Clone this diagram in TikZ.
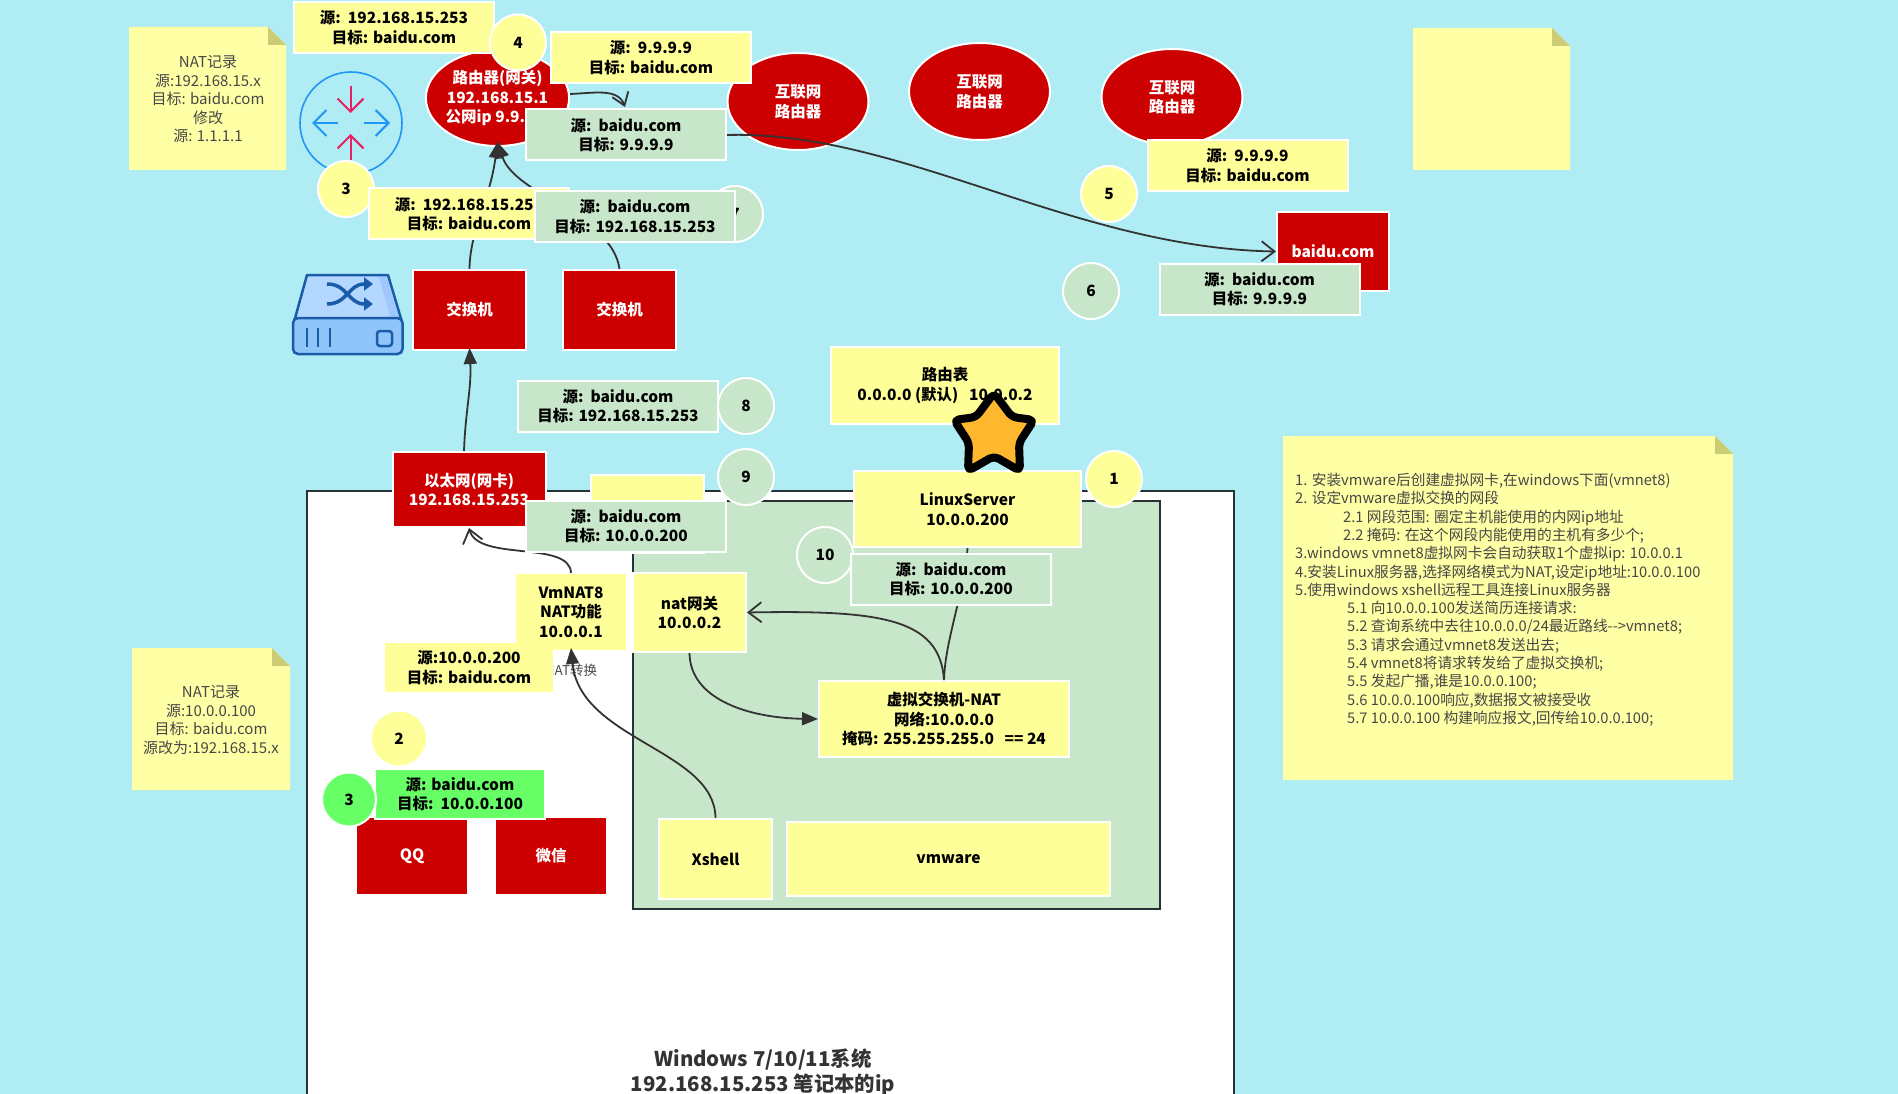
\documentclass[tikz,border=0pt]{standalone}
\usepackage{fontspec}
\setmainfont{Noto Sans CJK SC}
\usetikzlibrary{arrows.meta}
\definecolor{skybg}{HTML}{B0ECF3}
\definecolor{boxyellow}{HTML}{FFFF99}
\definecolor{noteyellow}{HTML}{FFFFA6}
\definecolor{notefold}{HTML}{CCCC77}
\definecolor{boxgreen}{HTML}{C8E6C9}
\definecolor{boxlime}{HTML}{66FF66}
\definecolor{boxred}{HTML}{CC0000}
\definecolor{linedark}{HTML}{333333}
\definecolor{framedark}{HTML}{263238}
\definecolor{iconblue}{HTML}{2196F3}
\definecolor{iconpink}{HTML}{E91E63}
\definecolor{switchdark}{HTML}{1A5CA8}
\definecolor{switchtop}{HTML}{B3D7FF}
\definecolor{switchband}{HTML}{A0C8FF}
\definecolor{switchbase}{HTML}{90C5FA}
\definecolor{starfill}{HTML}{FFB82E}
\tikzset{
  redbox/.style={fill=boxred,draw=white,line width=2pt,text=white,font=\fontsize{15.5}{19.5}\selectfont\bfseries,align=center,inner sep=0pt},
  redoval/.style={redbox,ellipse},
  yellowbox/.style={fill=boxyellow,draw=white,line width=2pt,text=black,font=\fontsize{15.5}{19.5}\selectfont\bfseries,align=center,inner sep=0pt},
  greenbox/.style={yellowbox,fill=boxgreen},
  limebox/.style={yellowbox,fill=boxlime},
  pkt/.style={minimum width=200,minimum height=51},
  numdot/.style={yellowbox,circle,minimum size=56},
  notetext/.style={text=black!72,font=\fontsize{15}{18.5}\selectfont,align=center,inner sep=0pt},
  conn/.style={draw=linedark,line width=1.8pt},
  fillarrow/.style={conn,-{Triangle[length=16,width=13]}},
  openarrow/.style={conn,-{Straight Barb[length=13,width=20]}},
  iconarrow/.style={line width=2pt,-{Straight Barb[length=13,width=26]}}
}
\usetikzlibrary{shapes.geometric}
%% sticky note with a folded corner
\newcommand{\stickynote}[4]{
  \fill[noteyellow] (#1,#2) -- (#3-18,#2) -- (#3,#2+18) -- (#3,#4) -- (#1,#4) -- cycle;
  \fill[notefold] (#3-18,#2) -- (#3,#2+18) -- (#3-18,#2+18) -- cycle;
}
\begin{document}
\begin{tikzpicture}[x=1pt,y=-1pt]
  \path[use as bounding box] (0,0) rectangle (1898,1094);
  \clip (0,0) rectangle (1898,1094);
  \fill[skybg] (0,0) rectangle (1898,1094);

  %% Laptop and virtual network frames
  \draw[framedark,fill=white,line width=2pt] (307,491) rectangle (1234,1110);
  \draw[framedark,fill=boxgreen,line width=2pt] (633,501) rectangle (1160,909);
  \node[text=linedark,font=\fontsize{20.4}{25}\selectfont\bfseries,align=center,inner sep=0pt] (winlabel) at (763,1072) {Windows 7/10/11系统\\192.168.15.253 笔记本的ip};
  \node[text=black!70,font=\fontsize{13.5}{16}\selectfont,inner sep=0pt] (nattext) at (571,670) {NAT转换};

  %% Notes
  \stickynote{129}{27}{286}{170}
  \node[notetext] (notetop) at (208,99) {NAT记录\\源:192.168.15.x\\目标: baidu.com\\修改\\源: 1.1.1.1};
  \stickynote{132}{648}{290}{790}
  \node[notetext] (noteleft) at (211,720) {NAT记录\\源:10.0.0.100\\目标: baidu.com\\源改为:192.168.15.x};
  \stickynote{1413}{28}{1570}{170}
  \stickynote{1283}{436}{1733}{780}
  \node[notetext,align=left,anchor=north west,font=\fontsize{14.7}{18.3}\selectfont] (notesteps) at (1295,473) {1. 安装vmware后创建虚拟网卡,在windows下面(vmnet8)\\
    2. 设定vmware虚拟交换的网段\\
    \hspace*{48pt}2.1 网段范围: 圈定主机能使用的内网ip地址\\
    \hspace*{48pt}2.2 掩码: 在这个网段内能使用的主机有多少个;\\
    3.windows vmnet8虚拟网卡会自动获取1个虚拟ip: 10.0.0.1\\
    4.安装Linux服务器,选择网络模式为NAT,设定ip地址:10.0.0.100\\
    5.使用windows xshell远程工具连接Linux服务器\\
    \hspace*{52pt}5.1 向10.0.0.100发送简历连接请求:\\
    \hspace*{52pt}5.2 查询系统中去往10.0.0.0/24最近路线-{}->vmnet8;\\
    \hspace*{52pt}5.3 请求会通过vmnet8发送出去;\\
    \hspace*{52pt}5.4 vmnet8将请求转发给了虚拟交换机;\\
    \hspace*{52pt}5.5 发起广播,谁是10.0.0.100;\\
    \hspace*{52pt}5.6 10.0.0.100响应,数据报文被接受收\\
    \hspace*{52pt}5.7 10.0.0.100 构建响应报文,回传给10.0.0.100;};

  %% Router icon
  \draw[iconblue,line width=1.6pt] (351,123) circle (51);
  \draw[iconarrow,iconpink] (350.5,86) -- (350.5,113);
  \draw[iconarrow,iconpink] (350.5,160) -- (350.5,134);
  \draw[iconarrow,iconblue] (338,123) -- (312,123);
  \draw[iconarrow,iconblue] (364,123) -- (390,123);

  %% Switch icon
  \draw[switchdark,fill=switchtop,line width=2.5pt,line join=round] (307,275) -- (388,275) -- (402,322) -- (294,322) -- cycle;
  \fill[switchband] (379,277) -- (387,277) -- (399,320) -- (391,320) -- cycle;
  \draw[switchdark,fill=switchbase,line width=2.5pt,rounded corners=5] (293,318) rectangle (402.5,354);
  \foreach \xbar in {307,318,330}
    \draw[switchdark,line width=2.5pt] (\xbar,328) -- (\xbar,347);
  \draw[switchdark,line width=2.5pt,rounded corners=3] (377,331) rectangle (392,346);
  \draw[switchdark,line width=3.5pt,-{Triangle[length=9,width=13]}] (327,284) .. controls (348,284) and (348,304) .. (373,304);
  \draw[switchdark,line width=3.5pt,-{Triangle[length=9,width=13]}] (327,304) .. controls (348,304) and (348,284) .. (373,284);

  %% Internet side
  \node[redoval,minimum width=141,minimum height=96] (router) at (497.5,98) {路由器(网关)\\192.168.15.1\\\makebox[70pt]{公网ip 9.9.9.9}};
  \node[redoval,minimum width=141,minimum height=97] (inet1) at (798,101.5) {互联网\\路由器};
  \node[redoval,minimum width=141,minimum height=97] (inet2) at (979.5,91.5) {互联网\\路由器};
  \node[redoval,minimum width=141,minimum height=96] (inet3) at (1172,97) {互联网\\路由器};
  \node[redbox,minimum width=112,minimum height=79] (baidu) at (1333,251.5) {baidu.com};
  \node[redbox,minimum width=113,minimum height=80] (switch1) at (469.5,310) {交换机};
  \node[redbox,minimum width=113,minimum height=80] (switch2) at (619.5,310) {交换机};

  %% Host side
  \node[redbox,minimum width=153,minimum height=75] (eth) at (469,489.5) {以太网(网卡)\\192.168.15.253};
  \node[redbox,minimum width=110,minimum height=76,draw=none] (qq) at (412,856) {QQ};
  \node[redbox,minimum width=110,minimum height=76,draw=none] (wechat) at (551,856) {微信};
  \node[yellowbox,minimum width=113,minimum height=78] (blank) at (647.5,514) {};
  \node[yellowbox,minimum width=110,minimum height=76,draw=none] (vmnat) at (571,612) {VmNAT8\\NAT功能\\10.0.0.1};
  \node[yellowbox,minimum width=113,minimum height=79] (natgw) at (689.5,612.5) {nat网关\\10.0.0.2};
  \node[yellowbox,minimum width=227,minimum height=76] (linux) at (967.5,509) {LinuxServer\\10.0.0.200};
  \node[yellowbox,minimum width=250,minimum height=76] (vswitch) at (944,719) {虚拟交换机-NAT\\网络:10.0.0.0\\掩码: 255.255.255.0\ \ \ == 24};
  \node[yellowbox,minimum width=113,minimum height=80] (xshell) at (715.5,859) {Xshell};
  \node[yellowbox,minimum width=323,minimum height=74] (vmware) at (948.5,859) {vmware};
  \node[yellowbox,minimum width=228,minimum height=77] (routetable) at (945,385.5) {路由表\\0.0.0.0 (默认)\ \ \ 10.0.0.2};

  %% Number dots under the labels
  \node[numdot] (dotthree) at (346,189) {3};
  \node[numdot,fill=boxgreen] (dotseven) at (735,214) {7};
  \node[numdot,fill=boxgreen] (doteight) at (746,406) {8};
  \node[numdot,fill=boxgreen] (dotnine) at (746,477) {9};
  \node[numdot,fill=boxgreen] (dotten) at (825,555) {10};
  \node[numdot] (dotone) at (1114,479) {1};
  \node[numdot] (dotfive) at (1109,194) {5};
  \node[numdot,fill=boxgreen] (dotsix) at (1091,291) {6};
  \node[numdot,draw=none,minimum size=54] (dottwo) at (399,738.5) {2};

  %% Connectors under the labels
  \draw[fillarrow] ([xshift=-5]eth.north) to[out=88,in=-87] ([yshift=3]switch1.south);
  \draw[fillarrow] (switch1.north) .. controls (470,230) and (490,200) .. ([yshift=5]router.south);
  \draw[fillarrow] (switch2.north) .. controls (612,215) and (515,195) .. ([yshift=5]router.south);
  \coordinate (backtop) at (625,107);
  \draw[conn,-{Straight Barb[length=12,width=17]}] ([yshift=4]router.east) .. controls (595,93) and (618,88) .. (backtop);
  \draw[openarrow] (vmnat.north) .. controls (570,540) and (478,562) .. (eth.south);
  \draw[openarrow] (vswitch.north) .. controls (940,618) and (880,610) .. (natgw.east);
  \draw[conn] (vswitch.north) .. controls (945,640) and (965,590) .. (linux.south);
  \draw[fillarrow] (natgw.south) .. controls (690,700) and (750,718) .. (vswitch.west);

  %% Packet labels
  \node[yellowbox,pkt] (pkttop) at (394,27.5) {源:\ \ 192.168.15.253\\目标: baidu.com};
  \node[numdot] (dotfour) at (518,42.5) {4};
  \node[yellowbox,pkt] (pktout) at (651,57.5) {源:\ \ 9.9.9.9\\目标: baidu.com};
  \node[greenbox,pkt] (pktback) at (626,135) {源:\ \ baidu.com\\目标: 9.9.9.9};
  \node[yellowbox,pkt] (pktlan) at (469,214) {源:\ \ 192.168.15.253\\目标: baidu.com};
  \node[greenbox,pkt] (pktlanback) at (635,216.5) {源:\ \ baidu.com\\目标: 192.168.15.253};
  \node[yellowbox,pkt] (pktwan) at (1247.5,165.5) {源:\ \ 9.9.9.9\\目标: baidu.com};
  \node[greenbox,pkt] (pktwanback) at (1259.5,289) {源:\ \ baidu.com\\目标: 9.9.9.9};
  \node[greenbox,pkt] (pkteight) at (618,406) {源:\ \ baidu.com\\目标: 192.168.15.253};
  \node[greenbox,pkt] (pktnine) at (626,526) {源:\ \ baidu.com\\目标: 10.0.0.200};
  \node[greenbox,pkt] (pktten) at (951,579) {源:\ \ baidu.com\\目标: 10.0.0.200};
  \node[yellowbox,minimum width=168,minimum height=49,draw=none] (pktnat) at (469,667.5) {源:10.0.0.200\\目标: baidu.com};
  \node[limebox,minimum width=170,minimum height=50] (pktlime) at (460,794) {源: baidu.com\\目标:\ \ 10.0.0.100};
  \node[numdot,fill=boxlime,minimum size=54] (dotlime) at (349,799.5) {3};

  %% Connectors over everything
  \draw[fillarrow] (xshell.north) .. controls (715,750) and (580,740) .. ([yshift=3]vmnat.south);
  \draw[openarrow] (pktback.east) .. controls (900,130) and (1073,248) .. (baidu.west);

  %% Star on the server
  \draw[black,fill=starfill,line width=8pt,line join=round,rounded corners=5]
    (994,393) -- (1012,417) -- (1034,420) -- (1019,443) -- (1020,471) -- (994,456)
    -- (968,471) -- (969,443) -- (954,420) -- (976,417) -- cycle;
\end{tikzpicture}
\end{document}
